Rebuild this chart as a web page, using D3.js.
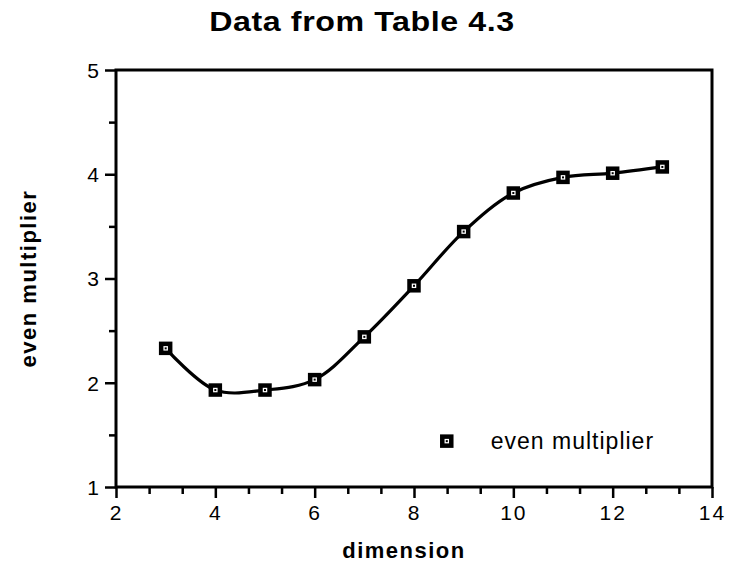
<!DOCTYPE html>
<html>
<head>
<meta charset="utf-8">
<script src="https://cdn.jsdelivr.net/npm/d3@7"></script>
<style>
  html, body { margin: 0; padding: 0; background: #fff; }
  svg { display: block; }
  text { font-family: "Liberation Sans", Arial, Helvetica, sans-serif; fill: #000; }
</style>
</head>
<body>
<svg id="chart" width="732" height="580"></svg>
<script>
// Table 4.3: even multiplier by dimension
const dimensions = [3, 4, 5, 6, 7, 8, 9, 10, 11, 12, 13];
const evenMultiplier = [2.33, 1.93, 1.93, 2.03, 2.44, 2.93, 3.45, 3.82, 3.97, 4.01, 4.07];

const xMajorTicks = [2, 4, 6, 8, 10, 12, 14];
const yMajorTicks = [1, 2, 3, 4, 5];

const titleText = "Data from Table 4.3";
const xTitle = "dimension";
const yTitle = "even multiplier";
const seriesName = "even multiplier";

const W = 732, H = 580;
const margin = { top: 70, right: 20, bottom: 93, left: 116 };
const plotW = W - margin.left - margin.right;
const plotH = H - margin.top - margin.bottom;

const svg = d3.select("#chart");
const g = svg.append("g").attr("transform", `translate(${margin.left},${margin.top})`);

const x = d3.scaleLinear().domain([2, 14]).range([0, plotW]);
const y = d3.scaleLinear().domain([1, 5]).range([plotH, 0]);

// minor ticks: thirds between x majors, halves between y majors
const xMinor = d3.range(2, 14.001, 2 / 3).filter(v => Math.abs(v / 2 - Math.round(v / 2)) > 1e-6);
const yMinor = d3.range(1.5, 5, 1);

// x axis (bottom)
const xAxis = g.append("g").attr("transform", `translate(0,${plotH})`)
  .call(d3.axisBottom(x).tickValues(xMajorTicks).tickSize(11).tickPadding(6).tickFormat(d3.format("d")));
const xAxisMinor = g.append("g").attr("transform", `translate(0,${plotH})`)
  .call(d3.axisBottom(x).tickValues(xMinor).tickSize(7).tickFormat(""));

// y axis (left)
const yAxis = g.append("g")
  .call(d3.axisLeft(y).tickValues(yMajorTicks).tickSize(11).tickPadding(6).tickFormat(d3.format("d")));
const yAxisMinor = g.append("g")
  .call(d3.axisLeft(y).tickValues(yMinor).tickSize(7).tickFormat(""));

[xAxis, xAxisMinor, yAxis, yAxisMinor].forEach(a => {
  a.select(".domain").remove();
  a.selectAll(".tick line").attr("stroke", "#000").attr("stroke-width", 2.5);
  a.selectAll(".tick text").style("font-size", "21px").attr("fill", "#000");
});
xAxis.selectAll(".tick text").attr("dy", "0.75em").style("letter-spacing", "2px");
yAxis.selectAll(".tick text").attr("dy", "0.35em");

// plot frame
g.append("rect")
  .attr("x", 0).attr("y", 0).attr("width", plotW).attr("height", plotH)
  .attr("fill", "none").attr("stroke", "#000").attr("stroke-width", 3);

// fitted curve
const line = d3.line()
  .x((d, i) => x(dimensions[i]))
  .y(d => y(d))
  .curve(d3.curveCatmullRom.alpha(0.5));

g.append("path")
  .datum(evenMultiplier)
  .attr("d", line)
  .attr("fill", "none")
  .attr("stroke", "#000")
  .attr("stroke-width", 3.2);

// square markers: heavy black outline, small white centre with a dot
function marker(sel) {
  sel.append("rect")
    .attr("x", -4.5).attr("y", -4.5).attr("width", 9).attr("height", 9)
    .attr("fill", "#fff").attr("stroke", "#000").attr("stroke-width", 4.5);
  sel.append("rect")
    .attr("x", -1).attr("y", -1).attr("width", 2).attr("height", 2)
    .attr("fill", "#000");
}

g.selectAll(".pt")
  .data(evenMultiplier)
  .join("g")
  .attr("class", "pt")
  .attr("transform", (d, i) => `translate(${x(dimensions[i])},${y(d)})`)
  .call(marker);

// legend
const legend = g.append("g").attr("transform", `translate(${x(8.66)},${y(1.44)})`);
legend.append("g").call(marker);
legend.append("text")
  .attr("x", 44).attr("y", 0).attr("dy", "0.35em")
  .style("font-size", "23px").style("letter-spacing", "1px")
  .text(seriesName);

// titles
svg.append("text")
  .attr("transform", "translate(362,31) scale(1.15,1)")
  .attr("text-anchor", "middle")
  .style("font-size", "28px").style("font-weight", "bold").style("letter-spacing", "0.5px")
  .text(titleText);

svg.append("text")
  .attr("x", 404).attr("y", 558)
  .attr("text-anchor", "middle")
  .style("font-size", "22px").style("font-weight", "bold").style("letter-spacing", "1.5px")
  .text(xTitle);

svg.append("text")
  .attr("transform", `translate(36,${margin.top + plotH / 2}) rotate(-90)`)
  .attr("text-anchor", "middle")
  .style("font-size", "22px").style("font-weight", "bold").style("letter-spacing", "1.5px")
  .text(yTitle);
</script>
</body>
</html>
